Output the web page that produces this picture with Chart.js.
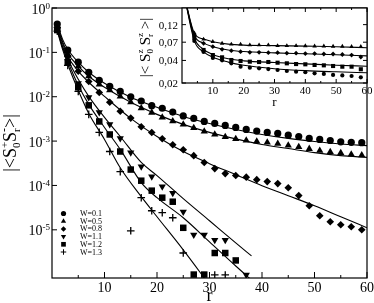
<!DOCTYPE html>
<html>
<head>
<meta charset="utf-8">
<script src="https://cdn.jsdelivr.net/npm/chart.js@4.4.1/dist/chart.umd.min.js"></script>
<style>
  html, body { margin: 0; padding: 0; background: #fff; }
  #wrap { position: relative; width: 374px; height: 303px; }
  #main { position: absolute; left: 0; top: 0; }
  #inset { position: absolute; left: 120px; top: 0; }
</style>
</head>
<body>
<div id="wrap">
  <canvas id="main" width="374" height="303"></canvas>
  <canvas id="inset" width="254" height="110"></canvas>
</div>
<script>
// ---- main panel data: |<S+_0 S-_r>| vs r ----
const rPts = [1,3,5,7,9,11,13,15,17,19,21,23,25,27,29,31,33,35,37,39,41,43,45,47,49,51,53,55,57,59];
const w01 = [0.435,0.112,0.060,0.0356,0.0235,0.0172,0.0132,0.0100,0.0080,0.0063,0.0055,0.0045,0.0037,0.00325,0.00277,0.0025,0.00225,0.00203,0.00183,0.00168,0.00157,0.00149,0.00136,0.00127,0.00115,0.00109,0.00103,0.00096,0.00094,0.00092];
const w05 = [0.37,0.091,0.049,0.029,0.019,0.014,0.0102,0.0075,0.0055,0.0044,0.0034,0.0028,0.00238,0.00198,0.00165,0.00141,0.00124,0.00112,0.00103,0.00098,0.00093,0.00087,0.00080,0.00074,0.00067,0.00061,0.00057,0.00054,0.00050,0.00048];
const w08 = [0.37,0.082,0.0376,0.022,0.0125,0.0075,0.0047,0.0033,0.0021,0.00156,0.00113,0.00083,0.00064,0.00047,0.00033,0.00024,0.000185,0.000167,0.000154,0.000135,0.000122,0.00011,0.000089,0.000059,0.000035,0.0000207,0.0000152,0.000013,0.0000117,0.00001];
const w11 = [0.335,0.063,0.0201,0.0097,0.00444,0.00238,0.00115,0.000552,0.000266,0.000158,0.000094,0.000067,0.0000255,0.0000077,0.0000077,0.0000059,0.0000059,null,9.6e-7];
const w12 = [0.318,0.06,0.0163,0.0064,0.00277,0.00141,0.000582,0.000228,0.000128,0.0000763,0.000053,0.000043,0.0000111,9.8e-7,9.8e-7,3.0e-6,3.0e-6,2.04e-6];
const w13 = [0.30,0.051,0.0132,0.004,0.00157,0.000582,0.000205,9.5e-6,0.000053,0.0000269,0.0000243,0.0000187,3.0e-6,null,null,9.6e-7,9.6e-7];

// fitted curves
const fitR = [1,2,3,5,7,10,15,20,25,30,35,40,45,50,55,60];
const fit01 = [0.435,0.199,0.118,0.060,0.0356,0.0201,0.0097,0.00576,0.0036,0.0025,0.00183,0.00141,0.00115,0.00098,0.00086,0.00079];
const fit05 = [0.392,0.177,0.096,0.0488,0.029,0.0163,0.00747,0.0040,0.00238,0.00157,0.00112,0.00084,0.00068,0.00055,0.00047,0.00043];
const fit08 = [0.372,0.161,0.082,0.0376,0.0212,0.0102,0.00325,0.00127,0.00058,0.00031,0.000175,0.0000989,0.0000588,0.0000349,0.0000197,0.0000111];
const fitR11 = [1,2,3,5,7,10,13,17,20,25,30,35,38];
const fit11 = [0.335,0.138,0.070,0.0248,0.0102,0.00342,0.00127,0.00033,0.000167,0.0000503,0.000016,5.08e-6,2.58e-6];
const fitR12 = [1,2,3,5,7,10,13,17,20,25,30,35,38];
const fit12 = [0.318,0.131,0.063,0.0181,0.00673,0.00203,0.00065,0.000116,0.000053,0.0000187,5.36e-6,1.53e-6,7.4e-7];
const fitR13 = [1,2,3,5,7,10,13,17,20,25,30];
const fit13 = [0.302,0.118,0.054,0.0140,0.00421,0.00109,0.00025,0.0000558,0.0000197,3.53e-6,5.7e-7];

const seriesLabels = ['W=0.1','W=0.5','W=0.8','W=1.1','W=1.2','W=1.3'];
const xMajor = [10,20,30,40,50,60];
const xMinor = [5,15,25,35,45,55];
const yTickExp = [0,-1,-2,-3,-4,-5];

// ---- inset data: |<Sz_0 Sz_r>| vs r ----
const insetR = [4,7,10,13,16,19,22,25,28,31,34,37,40,43,46,49,52,55,58];
const insetTri = [0.0929,0.0766,0.0711,0.0676,0.0656,0.0656,0.0642,0.0642,0.0642,0.0628,0.0628,0.0628,0.0625,0.062,0.062,0.0615,0.0615,0.061,0.061];
const insetDia = [0.0873,0.0676,0.061,0.0562,0.0539,0.0523,0.0513,0.0513,0.0507,0.0507,0.05,0.05,0.0494,0.0494,0.0487,0.0487,0.048,0.0472,0.0444];
const insetSq = [0.0796,0.0551,0.0472,0.044,0.0405,0.0393,0.0385,0.0381,0.0381,0.0373,0.0366,0.0358,0.0355,0.0348,0.0344,0.0337,0.033,0.033,0.0305];
const insetCirc = [0.0726,0.0518,0.0431,0.0401,0.0366,0.033,0.032,0.0314,0.0307,0.0298,0.0289,0.0283,0.0278,0.0269,0.0264,0.0256,0.0252,0.0248,0.0238];
const insetFitR = [1,4,7,10,15,20,30,40,50,60];
const insetFitTri = [0.26,0.092,0.077,0.071,0.066,0.064,0.063,0.062,0.061,0.059];
const insetFitDia = [0.26,0.086,0.068,0.061,0.055,0.0525,0.0505,0.049,0.0475,0.046];
const insetFitSq = [0.26,0.079,0.056,0.048,0.042,0.0395,0.0375,0.036,0.0345,0.0335];
const insetFitCirc = [0.26,0.073,0.052,0.044,0.038,0.0345,0.031,0.0292,0.0282,0.0274];
const insetYTicks = [0.02,0.04,0.07,0.12];
const insetYLabels = ['0,02','0,04','0,07','0,12'];

const SERIF = '"Liberation Serif", "Times New Roman", serif';

const pts = (xs, ys) => ys.map((v, i) => ({ x: xs[i], y: v })).filter(p => p.y !== null);

const markStyles = [
  { pointStyle: 'circle', rotation: 0, radius: 3.6 },
  { pointStyle: 'triangle', rotation: 0, radius: 4.2 },
  { pointStyle: 'rectRot', rotation: 0, radius: 3.8 },
  { pointStyle: 'triangle', rotation: 180, radius: 4.2 },
  { pointStyle: 'rect', rotation: 0, radius: 4.6 },
  { pointStyle: 'cross', rotation: 0, radius: 3.8 }
];

function markSet(data, st, label) {
  return {
    label, data, showLine: false,
    pointStyle: st.pointStyle, pointRotation: st.rotation, pointRadius: st.radius,
    pointBackgroundColor: '#000', pointBorderColor: '#000',
    pointBorderWidth: st.pointStyle === 'cross' ? 1.3 : 0
  };
}
function fitSet(data) {
  return {
    data, showLine: true, pointRadius: 0, borderColor: '#000', borderWidth: 1.1,
    cubicInterpolationMode: 'monotone', fill: false
  };
}

// rich text: items {t, s, dy, stack}
function richWidth(ctx, items) {
  let w = 0, pend = 0;
  items.forEach(it => {
    ctx.font = it.s + 'px ' + SERIF;
    const m = ctx.measureText(it.t).width;
    if (it.stack) pend = Math.max(pend, m);
    else { w += Math.max(pend, m); pend = 0; }
  });
  return w + pend;
}
function drawRich(ctx, items, x, y) {
  let cx = x, pend = 0;
  items.forEach(it => {
    ctx.font = it.s + 'px ' + SERIF;
    ctx.fillText(it.t, cx, y + (it.dy || 0));
    const m = ctx.measureText(it.t).width;
    if (it.stack) pend = Math.max(pend, m);
    else { cx += Math.max(pend, m); pend = 0; }
  });
}

const mainDecor = {
  id: 'mainDecor',
  afterDraw(chart) {
    const { ctx, chartArea: a, scales: { x, y } } = chart;
    ctx.save();
    ctx.strokeStyle = '#000';
    ctx.fillStyle = '#000';
    ctx.lineWidth = 1.2;
    ctx.strokeRect(a.left, a.top, a.right - a.left, a.bottom - a.top);

    ctx.lineWidth = 1;
    ctx.beginPath();
    xMajor.forEach(v => { const px = x.getPixelForValue(v); ctx.moveTo(px, a.bottom); ctx.lineTo(px, a.bottom - 6); });
    xMinor.forEach(v => { const px = x.getPixelForValue(v); ctx.moveTo(px, a.bottom); ctx.lineTo(px, a.bottom - 3); });
    yTickExp.forEach(e => { const py = y.getPixelForValue(Math.pow(10, e)); ctx.moveTo(a.left, py); ctx.lineTo(a.left + 5, py); });
    ctx.stroke();

    // x tick labels
    ctx.textAlign = 'center';
    ctx.textBaseline = 'alphabetic';
    ctx.font = '14px ' + SERIF;
    xMajor.forEach(v => ctx.fillText(String(v), x.getPixelForValue(v), a.bottom + 14));

    // y tick labels 10^e
    ctx.textAlign = 'left';
    yTickExp.forEach(e => {
      const py = y.getPixelForValue(Math.pow(10, e));
      const items = [{ t: '10', s: 14, dy: 5.5 }, { t: String(e), s: 9, dy: 0.5 }];
      const w = richWidth(ctx, items);
      drawRich(ctx, items, a.left - 2 - w, py);
    });

    // axis titles
    ctx.font = '18px ' + SERIF;
    ctx.textAlign = 'center';
    ctx.fillText('r', (a.left + a.right) / 2, 301);

    ctx.textAlign = 'left';
    const yTitle = [
      { t: '|<', s: 18 }, { t: 'S', s: 18 },
      { t: '+', s: 11, dy: -8, stack: true }, { t: '0', s: 11, dy: 4 },
      { t: 'S', s: 18 },
      { t: '-', s: 12, dy: -8, stack: true }, { t: 'r', s: 11, dy: 4 },
      { t: '>|', s: 18 }
    ];
    ctx.save();
    ctx.translate(16, (a.top + a.bottom) / 2);
    ctx.rotate(-Math.PI / 2);
    drawRich(ctx, yTitle, -richWidth(ctx, yTitle) / 2, 0);
    ctx.restore();

    // legend
    ctx.font = '8px ' + SERIF;
    ctx.textBaseline = 'middle';
    seriesLabels.forEach((lab, i) => {
      const ly = 213.5 + i * 7.7;
      const st = markStyles[i];
      ctx.lineWidth = 1;
      Chart.helpers.drawPoint(ctx, {
        pointStyle: st.pointStyle, rotation: st.rotation,
        radius: st.radius * 0.72, borderWidth: st.pointStyle === 'cross' ? 1 : 0
      }, 63.5, ly);
      ctx.fillText(lab, 80, ly + 0.5);
    });
    ctx.restore();
  }
};

const mainSets = [];
[w01, w05, w08, w11, w12, w13].forEach((arr, i) => mainSets.push(markSet(pts(rPts, arr), markStyles[i], seriesLabels[i])));
mainSets.push(fitSet(pts(fitR, fit01)));
mainSets.push(fitSet(pts(fitR, fit05)));
mainSets.push(fitSet(pts(fitR, fit08)));
mainSets.push(fitSet(pts(fitR11, fit11)));
mainSets.push(fitSet(pts(fitR12, fit12)));
mainSets.push(fitSet(pts(fitR13, fit13)));

new Chart(document.getElementById('main'), {
  type: 'scatter',
  data: { datasets: mainSets },
  options: {
    responsive: false,
    animation: false,
    devicePixelRatio: 1,
    layout: { autoPadding: false, padding: { left: 52, top: 8, right: 7, bottom: 25 } },
    plugins: { legend: { display: false }, tooltip: { enabled: false } },
    scales: {
      x: { type: 'linear', display: false, min: 0, max: 60 },
      y: { type: 'logarithmic', display: false, min: 8.2e-7, max: 1 }
    }
  },
  plugins: [mainDecor]
});

// ---- inset ----
const insetStyles = [
  { pointStyle: 'triangle', rotation: 0, radius: 2.6 },
  { pointStyle: 'rectRot', rotation: 0, radius: 2.4 },
  { pointStyle: 'rect', rotation: 0, radius: 2.9 },
  { pointStyle: 'circle', rotation: 0, radius: 2.1 }
];
const insetDecor = {
  id: 'insetDecor',
  beforeDatasetsDraw(chart) {
    const { ctx, chartArea: a } = chart;
    ctx.save();
    ctx.fillStyle = '#fff';
    ctx.fillRect(a.left, a.top, a.right - a.left, a.bottom - a.top);
    ctx.restore();
  },
  afterDraw(chart) {
    const { ctx, chartArea: a, scales: { x, y } } = chart;
    ctx.save();
    ctx.strokeStyle = '#000';
    ctx.fillStyle = '#000';
    ctx.lineWidth = 1.2;
    ctx.strokeRect(a.left, a.top, a.right - a.left, a.bottom - a.top);
    ctx.lineWidth = 1;
    ctx.beginPath();
    xMajor.forEach(v => {
      const px = x.getPixelForValue(v);
      ctx.moveTo(px, a.bottom); ctx.lineTo(px, a.bottom - 4);
      ctx.moveTo(px, a.top); ctx.lineTo(px, a.top + 4);
    });
    xMinor.forEach(v => {
      const px = x.getPixelForValue(v);
      ctx.moveTo(px, a.bottom); ctx.lineTo(px, a.bottom - 2);
      ctx.moveTo(px, a.top); ctx.lineTo(px, a.top + 2);
    });
    insetYTicks.forEach(v => {
      const py = y.getPixelForValue(v);
      ctx.moveTo(a.left, py); ctx.lineTo(a.left + 4, py);
      ctx.moveTo(a.right, py); ctx.lineTo(a.right - 4, py);
    });
    ctx.stroke();

    ctx.font = '11px ' + SERIF;
    ctx.textAlign = 'center';
    xMajor.forEach(v => ctx.fillText(String(v), x.getPixelForValue(v), a.bottom + 11));
    ctx.textAlign = 'right';
    insetYTicks.forEach((v, i) => ctx.fillText(insetYLabels[i], a.left - 4, y.getPixelForValue(v) + 4));

    ctx.textAlign = 'center';
    ctx.font = '13px ' + SERIF;
    ctx.fillText('r', (a.left + a.right) / 2, a.bottom + 23);

    ctx.textAlign = 'left';
    const t = [
      { t: '|< S', s: 15 },
      { t: 'z', s: 9, dy: -7, stack: true }, { t: '0', s: 9, dy: 3 },
      { t: ' S', s: 15 },
      { t: 'z', s: 9, dy: -7, stack: true }, { t: 'r', s: 9, dy: 3 },
      { t: ' >|', s: 15 }
    ];
    ctx.save();
    ctx.translate(30, (a.top + a.bottom) / 2 + 2);
    ctx.rotate(-Math.PI / 2);
    drawRich(ctx, t, -richWidth(ctx, t) / 2, 0);
    ctx.restore();
    ctx.restore();
  }
};

const insetSets = [];
[insetTri, insetDia, insetSq, insetCirc].forEach((arr, i) => insetSets.push(markSet(pts(insetR, arr), insetStyles[i], '')));
[insetFitTri, insetFitDia, insetFitSq, insetFitCirc].forEach(arr => insetSets.push(fitSet(pts(insetFitR, arr))));

new Chart(document.getElementById('inset'), {
  type: 'scatter',
  data: { datasets: insetSets },
  options: {
    responsive: false,
    animation: false,
    devicePixelRatio: 1,
    layout: { autoPadding: false, padding: { left: 62, top: 8, right: 7, bottom: 27 } },
    plugins: { legend: { display: false }, tooltip: { enabled: false } },
    scales: {
      x: { type: 'linear', display: false, min: 0, max: 60 },
      y: { type: 'logarithmic', display: false, min: 0.02, max: 0.2 }
    }
  },
  plugins: [insetDecor]
});
</script>
</body>
</html>
